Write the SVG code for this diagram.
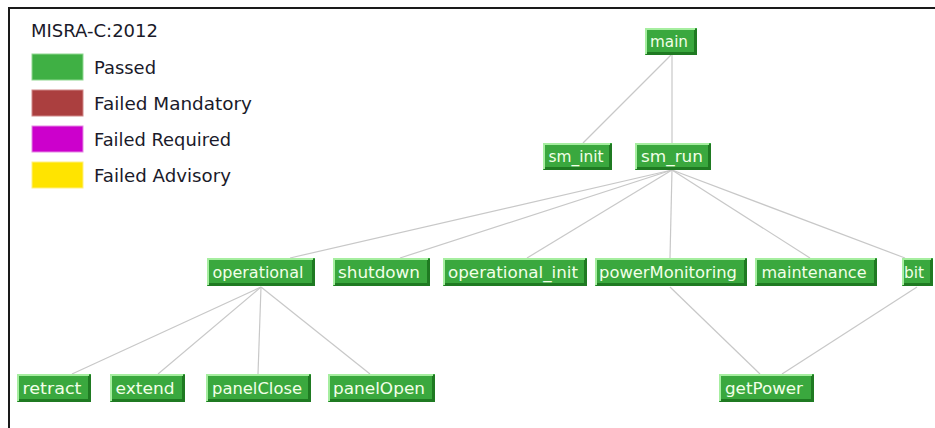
<svg xmlns="http://www.w3.org/2000/svg" width="935" height="428" viewBox="0 0 935 428">
<style>
.bg{fill:#ffffff}
.frame{stroke:#1a1a1a;stroke-width:2;fill:none}
.edge{stroke:#c8c8c8;stroke-width:1.2;fill:none}
.nb{fill:#3aa83e}
.hi{fill:none;stroke:#a6eea0;stroke-width:2}
.sh{fill:none;stroke:#1f7a22;stroke-width:3}
.nt{font-family:"DejaVu Sans","Noto Sans",sans-serif;font-size:16px;fill:#f2ffe8;text-anchor:middle}
.lt{font-family:"DejaVu Sans","Noto Sans",sans-serif;font-size:17px;fill:#1a1a2a}
.sw{stroke-width:1}
</style>
<rect class="bg" x="0" y="0" width="935" height="428"/>
<path class="frame" d="M9,428 V8 H935"/>
<g id="legend">
<text class="lt" x="31" y="37" textLength="127" lengthAdjust="spacingAndGlyphs">MISRA-C:2012</text>
<rect class="sw" x="32" y="54" width="51" height="26" fill="#3fb044" stroke="#8fd890"/>
<text class="lt" x="94" y="74" textLength="62" lengthAdjust="spacingAndGlyphs">Passed</text>
<rect class="sw" x="32" y="90" width="51" height="26" fill="#ab3f3f" stroke="#d08888"/>
<text class="lt" x="94" y="110" textLength="158" lengthAdjust="spacingAndGlyphs">Failed Mandatory</text>
<rect class="sw" x="32" y="126" width="51" height="26" fill="#cc00cc" stroke="#e488e4"/>
<text class="lt" x="94" y="146" textLength="137" lengthAdjust="spacingAndGlyphs">Failed Required</text>
<rect class="sw" x="32" y="162" width="51" height="26" fill="#ffe400" stroke="#fff080"/>
<text class="lt" x="94" y="182" textLength="137" lengthAdjust="spacingAndGlyphs">Failed Advisory</text>
</g>
<g id="connectors">
<line class="edge" x1="671" y1="55" x2="583" y2="143"/>
<line class="edge" x1="672" y1="55" x2="672" y2="143"/>
<line class="edge" x1="672" y1="170" x2="290" y2="258"/>
<line class="edge" x1="672" y1="170" x2="400" y2="258"/>
<line class="edge" x1="672" y1="170" x2="527" y2="258"/>
<line class="edge" x1="672" y1="170" x2="670" y2="258"/>
<line class="edge" x1="672" y1="170" x2="810" y2="258"/>
<line class="edge" x1="672" y1="170" x2="905" y2="258"/>
<line class="edge" x1="261" y1="287" x2="72" y2="374"/>
<line class="edge" x1="261" y1="287" x2="158" y2="374"/>
<line class="edge" x1="261" y1="287" x2="258" y2="374"/>
<line class="edge" x1="261" y1="287" x2="370" y2="374"/>
<line class="edge" x1="670" y1="287" x2="760" y2="374"/>
<line class="edge" x1="917" y1="287" x2="782" y2="374"/>
</g>
<g id="n_main"><rect class="nb" x="645" y="28" width="52" height="27"/><path class="sh" d="M646,53.5 H695.5 V29"/><path class="hi" d="M646,54 V29 H695"/><text class="nt" x="669" y="47" textLength="38" lengthAdjust="spacingAndGlyphs">main</text></g>
<g id="n_sm_init"><rect class="nb" x="543" y="143" width="69" height="27"/><path class="sh" d="M544,168.5 H610.5 V144"/><path class="hi" d="M544,169 V144 H610"/><text class="nt" x="576" y="162" textLength="55" lengthAdjust="spacingAndGlyphs">sm_init</text></g>
<g id="n_sm_run"><rect class="nb" x="635" y="143" width="76" height="27"/><path class="sh" d="M636,168.5 H709.5 V144"/><path class="hi" d="M636,169 V144 H709"/><text class="nt" x="672" y="162" textLength="62" lengthAdjust="spacingAndGlyphs">sm_run</text></g>
<g id="n_operational"><rect class="nb" x="207" y="258" width="108" height="28"/><path class="sh" d="M208,284.5 H313.5 V259"/><path class="hi" d="M208,285 V259 H313"/><text class="nt" x="258" y="278" textLength="91" lengthAdjust="spacingAndGlyphs">operational</text></g>
<g id="n_shutdown"><rect class="nb" x="333" y="258" width="97" height="28"/><path class="sh" d="M334,284.5 H428.5 V259"/><path class="hi" d="M334,285 V259 H428"/><text class="nt" x="379" y="278" textLength="82" lengthAdjust="spacingAndGlyphs">shutdown</text></g>
<g id="n_operational_init"><rect class="nb" x="443" y="258" width="144" height="28"/><path class="sh" d="M444,284.5 H585.5 V259"/><path class="hi" d="M444,285 V259 H585"/><text class="nt" x="513" y="278" textLength="130" lengthAdjust="spacingAndGlyphs">operational_init</text></g>
<g id="n_powerMonitoring"><rect class="nb" x="595" y="258" width="152" height="28"/><path class="sh" d="M596,284.5 H745.5 V259"/><path class="hi" d="M596,285 V259 H745"/><text class="nt" x="668" y="278" textLength="138" lengthAdjust="spacingAndGlyphs">powerMonitoring</text></g>
<g id="n_maintenance"><rect class="nb" x="755" y="258" width="122" height="28"/><path class="sh" d="M756,284.5 H875.5 V259"/><path class="hi" d="M756,285 V259 H875"/><text class="nt" x="814" y="278" textLength="105" lengthAdjust="spacingAndGlyphs">maintenance</text></g>
<g id="n_bit"><rect class="nb" x="902" y="258" width="31" height="28"/><path class="sh" d="M903,284.5 H931.5 V259"/><path class="hi" d="M903,285 V259 H931"/><text class="nt" x="914" y="278" textLength="20" lengthAdjust="spacingAndGlyphs">bit</text></g>
<g id="n_retract"><rect class="nb" x="17" y="374" width="74" height="28"/><path class="sh" d="M18,400.5 H89.5 V375"/><path class="hi" d="M18,401 V375 H89"/><text class="nt" x="52" y="394" textLength="59" lengthAdjust="spacingAndGlyphs">retract</text></g>
<g id="n_extend"><rect class="nb" x="110" y="374" width="75" height="28"/><path class="sh" d="M111,400.5 H183.5 V375"/><path class="hi" d="M111,401 V375 H183"/><text class="nt" x="145" y="394" textLength="59" lengthAdjust="spacingAndGlyphs">extend</text></g>
<g id="n_panelClose"><rect class="nb" x="206" y="374" width="105" height="28"/><path class="sh" d="M207,400.5 H309.5 V375"/><path class="hi" d="M207,401 V375 H309"/><text class="nt" x="257" y="394" textLength="90" lengthAdjust="spacingAndGlyphs">panelClose</text></g>
<g id="n_panelOpen"><rect class="nb" x="328" y="374" width="107" height="28"/><path class="sh" d="M329,400.5 H433.5 V375"/><path class="hi" d="M329,401 V375 H433"/><text class="nt" x="379" y="394" textLength="92" lengthAdjust="spacingAndGlyphs">panelOpen</text></g>
<g id="n_getPower"><rect class="nb" x="719" y="374" width="95" height="28"/><path class="sh" d="M720,400.5 H812.5 V375"/><path class="hi" d="M720,401 V375 H812"/><text class="nt" x="764" y="394" textLength="78" lengthAdjust="spacingAndGlyphs">getPower</text></g>
</svg>
